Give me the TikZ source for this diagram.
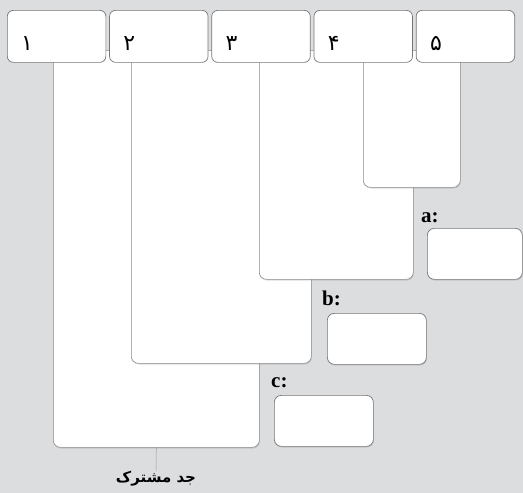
\documentclass[tikz,border=0pt]{standalone}
\usepackage{fontspec}
\setmainfont{Liberation Serif}
\newfontfamily\arabicfont[Script=Arabic]{DejaVu Sans}
\TeXXeTstate=1
\usetikzlibrary{positioning,shadows}
\definecolor{pagegray}{RGB}{220,221,223}
\definecolor{edgegray}{RGB}{118,118,120}

\begin{document}
\begin{tikzpicture}[x=1pt, y=-1pt,
  topbox/.style={draw=edgegray, fill=white, rounded corners=6pt, line width=0.7pt, minimum width=98.5pt, minimum height=52pt, inner sep=0pt},
  region/.style={draw=edgegray!85, fill=white, rounded corners=7pt, line width=0.6pt, anchor=north west, inner sep=0pt,
    drop shadow={shadow xshift=0.6pt, shadow yshift=-1.2pt, opacity=0.25}},
  ansbox/.style={draw=edgegray, fill=white, rounded corners=7pt, line width=0.7pt, anchor=north west, inner sep=0pt,
    minimum height=51pt, drop shadow={shadow xshift=0.6pt, shadow yshift=-1.2pt, opacity=0.25}},
  numlabel/.style={anchor=west, inner sep=0pt, xshift=14pt, yshift=-7pt, font=\arabicfont\fontsize{22}{22}\selectfont},
  letter/.style={anchor=west, inner sep=0pt, font=\bfseries\fontsize{21}{21}\selectfont},
  node distance=3pt
]
\useasboundingbox (0,0) rectangle (523,493);
\fill[pagegray] (0,0) rectangle (523,493);

% nested columns, widest at the back
\node[region, minimum width=206pt, minimum height=397pt] (r1) at (53,50) {};
\node[region, minimum width=180pt, minimum height=313pt] (r2) at (131,50) {};
\node[region, minimum width=154pt, minimum height=229pt] (r3) at (259,50) {};
\node[region, minimum width=97pt, minimum height=137pt] (r4) at (363,50) {};

% header row
\node[topbox, anchor=north west] (b1) at (7,10) {};
\node[topbox, right=of b1] (b2) {};
\node[topbox, right=of b2] (b3) {};
\node[topbox, right=of b3] (b4) {};
\node[topbox, right=of b4] (b5) {};
\node[numlabel] (n1) at (b1.west) {۱};
\node[numlabel] (n2) at (b2.west) {۲};
\node[numlabel] (n3) at (b3.west) {۳};
\node[numlabel] (n4) at (b4.west) {۴};
\node[numlabel] (n5) at (b5.west) {۵};

% answer boxes
\node[ansbox, minimum width=95pt] (ansa) at (427,228) {};
\node[ansbox, minimum width=99pt] (ansb) at (327,313) {};
\node[ansbox, minimum width=99pt] (ansc) at (274,395) {};
\node[letter] (la) at (421,218) {a:};
\node[letter] (lb) at (322,298) {b:};
\node[letter] (lc) at (271,383) {c:};

% common ancestor
\node[inner sep=0pt, font=\arabicfont\bfseries\fontsize{15}{15}\selectfont] (common) at (156,479) {\beginR جد مشترک\endR};
\draw[edgegray!70, line width=0.5pt] (r1.south) -- (common.north);
\end{tikzpicture}
\end{document}
